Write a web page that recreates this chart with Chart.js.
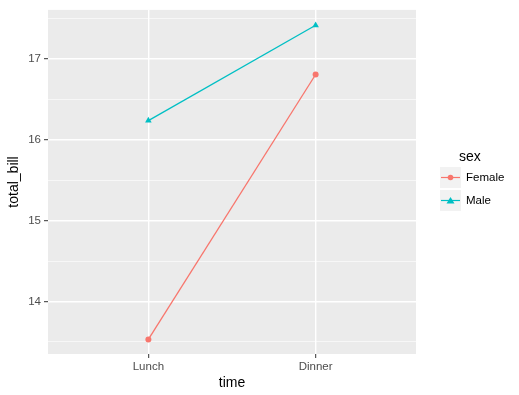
<!DOCTYPE html>
<html>
<head>
<meta charset="utf-8">
<script src="https://cdn.jsdelivr.net/npm/chart.js@4/dist/chart.umd.min.js"></script>
<style>
  html, body { margin: 0; padding: 0; background: #fff; }
</style>
</head>
<body>
<canvas id="myChart" width="519" height="395"></canvas>
<script>
// data
let times = ['Lunch', 'Dinner'];
let female_bill = [13.53, 16.81];
let male_bill = [16.24, 17.42];
let y_ticks = [13.5, 14, 14.5, 15, 15.5, 16, 16.5, 17, 17.5];

const panelBg = {
    id: 'panelBg',
    beforeDraw(chart) {
        const a = chart.chartArea;
        const c = chart.ctx;
        c.save();
        c.fillStyle = '#EBEBEB';
        c.fillRect(a.left, a.top, a.right - a.left, a.bottom - a.top);
        c.restore();
    }
};

// ggplot style legend on the right
const sideLegend = {
    id: 'sideLegend',
    afterDraw(chart) {
        const c = chart.ctx;
        c.save();
        c.fillStyle = '#000';
        c.font = '14px "Liberation Sans", Arial, sans-serif';
        c.textBaseline = 'middle';
        c.textAlign = 'left';
        c.fillText('sex', 459, 157);
        chart.data.datasets.forEach((ds, i) => {
            const top = 167 + i * 23;
            c.fillStyle = '#F2F2F2';
            c.fillRect(440, top, 21, 21);
            const cy = top + 10.5;
            c.strokeStyle = ds.borderColor;
            c.lineWidth = 1.2;
            c.beginPath();
            c.moveTo(441, cy);
            c.lineTo(460, cy);
            c.stroke();
            c.fillStyle = ds.borderColor;
            c.beginPath();
            if (ds.pointStyle === 'triangle') {
                c.moveTo(450.5, cy - 3.5);
                c.lineTo(454.5, cy + 3);
                c.lineTo(446.5, cy + 3);
                c.closePath();
            } else {
                c.arc(450.5, cy, 2.8, 0, Math.PI * 2);
            }
            c.fill();
            c.fillStyle = '#000';
            c.font = '11.5px "Liberation Sans", Arial, sans-serif';
            c.fillText(ds.label, 466, cy);
        });
        c.restore();
    }
};

let ctx = document.getElementById('myChart').getContext('2d');

let myChart = new Chart(ctx, {
    type: 'line',
    data: {
        datasets: [{
                label: 'Female',
                data: female_bill.map((v, i) => ({ x: i + 1, y: v })),
                borderColor: '#F8766D',
                backgroundColor: '#F8766D',
                borderWidth: 1.3,
                pointStyle: 'circle',
                pointRadius: 3,
                pointBorderWidth: 0,
            },
            {
                label: 'Male',
                data: male_bill.map((v, i) => ({ x: i + 1, y: v })),
                borderColor: '#00BFC4',
                backgroundColor: '#00BFC4',
                borderWidth: 1.3,
                pointStyle: 'triangle',
                pointRadius: 3.8,
                pointBorderWidth: 0,
            },
        ],
    },
    options: {
        responsive: false,
        animation: false,
        layout: {
            padding: { left: 0, top: 7, right: 103, bottom: 0 }
        },
        elements: {
            line: { tension: 0 }
        },
        scales: {
            x: {
                type: 'linear',
                min: 0.4,
                max: 2.6,
                afterBuildTicks: s => { s.ticks = [{ value: 1 }, { value: 2 }]; },
                afterFit: s => { s.height = 41; },
                border: { display: false },
                grid: {
                    color: '#FFFFFF',
                    lineWidth: 1.4,
                    tickColor: '#333333',
                    tickLength: 4,
                    tickWidth: 1,
                },
                ticks: {
                    color: '#4D4D4D',
                    padding: 2,
                    maxRotation: 0,
                    font: { family: '"Liberation Sans", Arial, sans-serif', size: 11.5 },
                    callback: v => times[v - 1],
                },
                title: {
                    display: true,
                    text: 'time',
                    color: '#000',
                    padding: { top: 0, bottom: 3.6 },
                    font: { family: '"Liberation Sans", Arial, sans-serif', size: 14 },
                },
            },
            y: {
                min: 13.35,
                max: 17.61,
                afterBuildTicks: s => { s.ticks = y_ticks.map(v => ({ value: v })); },
                afterFit: s => { s.width = 48; },
                border: { display: false },
                grid: {
                    color: '#FFFFFF',
                    lineWidth: c => Number.isInteger(c.tick.value) ? 1.4 : 0.6,
                    tickColor: c => Number.isInteger(c.tick.value) ? '#333333' : 'rgba(0,0,0,0)',
                    tickLength: 4,
                    tickWidth: 1,
                },
                ticks: {
                    color: '#4D4D4D',
                    padding: 3,
                    font: { family: '"Liberation Sans", Arial, sans-serif', size: 11.5 },
                    callback: v => Number.isInteger(v) ? v : '',
                },
                title: {
                    display: true,
                    text: 'total_bill',
                    color: '#000',
                    padding: { top: 5.6, bottom: 0 },
                    font: { family: '"Liberation Sans", Arial, sans-serif', size: 14 },
                },
            },
        },
        plugins: {
            legend: { display: false },
            tooltip: { enabled: false },
        },
    },
    plugins: [panelBg, sideLegend],
});
</script>
</body>
</html>
